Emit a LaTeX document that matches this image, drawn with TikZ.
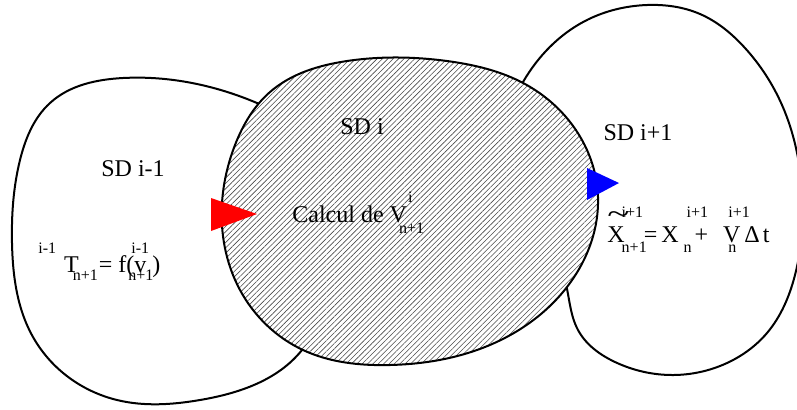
\documentclass[tikz,border=0pt]{standalone}
\usepackage{fontspec}
\setmainfont{Liberation Serif}
\usepackage{graphicx}
\usetikzlibrary{patterns.meta,hobby}
\definecolor{HatchGray}{HTML}{4A4A4A}
\definecolor{InRed}{HTML}{FF0000}
\definecolor{OutBlue}{HTML}{0000FF}
\newcommand\scr{\fontsize{8}{9}\selectfont}
\newcommand\uptxt[2]{\raisebox{#1}{\scr #2}}
\newcommand\dntxt[2]{\raisebox{-#1}{\scr #2}}
\tikzset{
  domainblob/.style={draw=black,line width=1pt,fill=white,use Hobby shortcut,closed=true},
  activeblob/.style={draw=black,line width=1pt,preaction={fill=white},pattern={Lines[angle=45,distance=1.9pt,line width=0.3pt]},pattern color=HatchGray,use Hobby shortcut,closed=true},
  sdlabel/.style={font=\fontsize{12}{14}\selectfont,inner sep=0pt},
  formula/.style={font=\fontsize{12}{14}\selectfont,inner sep=0pt,anchor=base west},
  inflow/.style={fill=InRed},
  outflow/.style={fill=OutBlue}
}

\begin{document}
\begin{tikzpicture}[x=0.5pt,y=-0.5pt]
\useasboundingbox (0,0) rectangle (797,409);

% neighbouring subdomains
\draw[domainblob] (257,103) .. (123,78) .. (50,103) .. (20,160) .. (12,243) .. (33,337) .. (117,400) .. (200,400) .. (302,350) .. (330,230) .. (300,130);
\draw[domainblob] (523,82) .. (585,21) .. (647,5) .. (700,14) .. (745,48) .. (782,105) .. (802,190) .. (795,275) .. (767,333) .. (727,363) .. (673,375) .. (615,362) .. (578,330) .. (565,280) .. (505,150);

% current subdomain
\draw[activeblob] (222,203) .. (235,145) .. (270,92) .. (347,61) .. (447,61) .. (525,84) .. (587,150) .. (598,197) .. (570,283) .. (477,350) .. (390,365) .. (303,350) .. (240,290);

\fill[inflow] (211,198) -- (211,231) -- (257,214) -- cycle;
\fill[outflow] (587,168) -- (587,200) -- (619,183) -- cycle;

\node[sdlabel] (sdprev) at (133,169) {SD i-1};
\node[sdlabel] (sdcur) at (362,127) {SD i};
\node[sdlabel] (sdnext) at (638,133) {SD i+1};

\node[formula] (tprev) at (38,272) {\uptxt{9.5pt}{i-1}\kern4pt T\kern-3pt\dntxt{4pt}{n+1}\kern0.5pt= f(\rlap{\kern-1.5pt\uptxt{9.5pt}{i-1}}\rlap{\kern-3pt\dntxt{4pt}{n+1}}v\kern3pt)};
\node[formula] (vcur) at (292,222) {Calcul de V\rlap{\kern0.5pt\uptxt{10pt}{i}}\kern-4pt\dntxt{5.5pt}{n+1}};
\node[formula] (xnext) at (607,242) {\rlap{\raisebox{9.5pt}{\scalebox{1.7}[1.2]{\textasciitilde}}}X\rlap{\kern-1.5pt\uptxt{12.5pt}{i+1}}\kern-1.5pt\dntxt{5pt}{n+1}\kern-1.5pt=\kern2pt X\rlap{\kern4pt\uptxt{12.5pt}{i+1}}\kern2.5pt\dntxt{5pt}{n}\kern1.5pt+\kern7.5pt V\rlap{\kern-6pt\uptxt{12.5pt}{i+1}}\rlap{\kern-6pt\dntxt{5pt}{n}}\kern2pt Δ\kern1.5pt t};
\end{tikzpicture}
\end{document}
